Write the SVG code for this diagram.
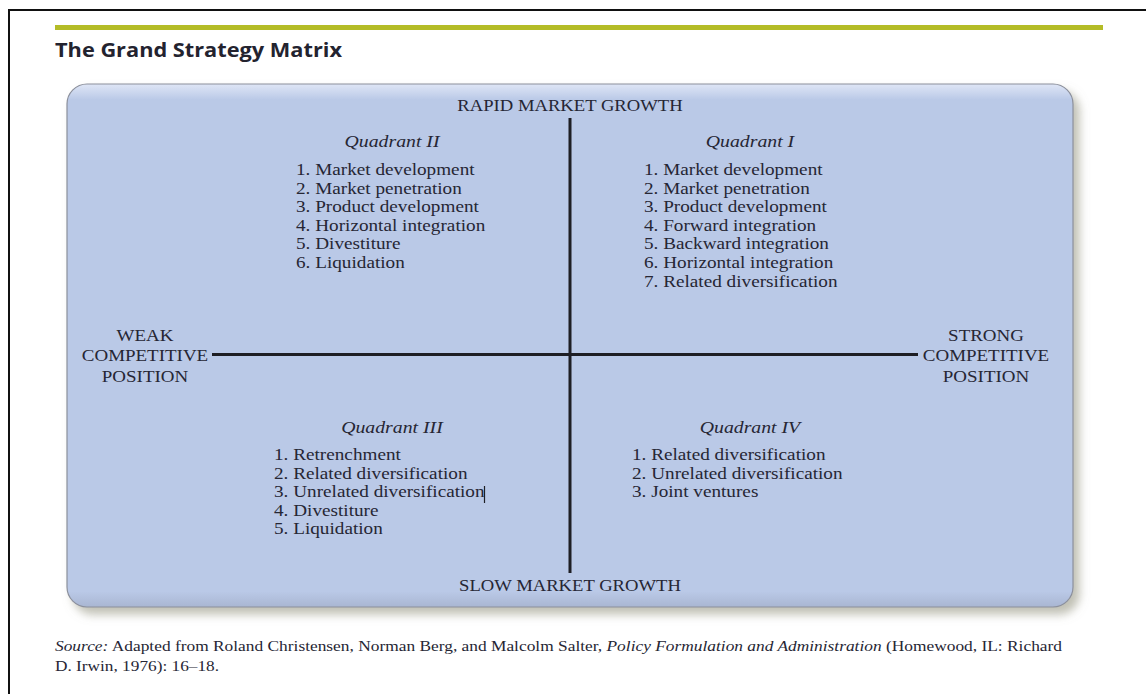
<svg xmlns="http://www.w3.org/2000/svg" width="1146" height="694" viewBox="0 0 1146 694">
  <style>
    .serif { font-family: "Liberation Serif", "Times New Roman", serif; fill: #262634; }
    .axis { font-size: 16.5px; }
    .item { font-size: 17px; }
    .qtitle { font-size: 17.5px; font-style: italic; }
    .note { font-size: 15px; }
    .title { font-family: "Open Sans", "Liberation Sans", sans-serif; font-weight: bold; font-size: 19px; fill: #23232f; }
    .axisline { stroke: #1e1e24; stroke-width: 3; fill: none; }
  </style>
  <defs>
    <filter id="panelShadow" x="-5%" y="-5%" width="112%" height="115%">
      <feDropShadow dx="6" dy="7" stdDeviation="5" flood-color="#8d8c78" flood-opacity="0.55"/>
    </filter>
    <linearGradient id="rimTop" x1="0" y1="0" x2="0" y2="1">
      <stop offset="0" stop-color="#dfe6f6"/>
      <stop offset="0.03" stop-color="#bac9e7"/>
      <stop offset="0.97" stop-color="#bac9e7"/>
      <stop offset="1" stop-color="#a9b6d2"/>
    </linearGradient>
  </defs>

  <rect width="1146" height="694" fill="#ffffff"/>

  <!-- page frame -->
  <path d="M9 694 V10 H1146" fill="none" stroke="#111111" stroke-width="2"/>

  <!-- header -->
  <rect x="55" y="25" width="1048" height="5" fill="#b4bc27"/>
  <text class="title" x="55" y="57" textLength="287" lengthAdjust="spacingAndGlyphs">The Grand Strategy Matrix</text>

  <!-- matrix panel -->
  <g id="panel">
    <rect x="67" y="84" width="1006" height="523" rx="20" ry="20" fill="url(#rimTop)" stroke="#8c909c" stroke-width="1.2" filter="url(#panelShadow)"/>
  </g>

  <!-- axes -->
  <g id="connectors">
    <line class="axisline" x1="570" y1="118" x2="570" y2="573"/>
    <line class="axisline" x1="212" y1="354.5" x2="918" y2="354.5"/>
  </g>

  <!-- axis labels -->
  <g id="rapid-growth" class="serif axis" transform="translate(570,0) scale(1.13,1)">
    <text x="0" y="111" text-anchor="middle">RAPID MARKET GROWTH</text>
  </g>
  <g id="slow-growth" class="serif axis" transform="translate(570,0) scale(1.13,1)">
    <text x="0" y="591" text-anchor="middle">SLOW MARKET GROWTH</text>
  </g>
  <g id="weak-position" class="serif axis" transform="translate(145,0) scale(1.15,1)" text-anchor="middle">
    <text x="0" y="341">WEAK</text>
    <text x="0" y="361">COMPETITIVE</text>
    <text x="0" y="382">POSITION</text>
  </g>
  <g id="strong-position" class="serif axis" transform="translate(986,0) scale(1.15,1)" text-anchor="middle">
    <text x="0" y="341">STRONG</text>
    <text x="0" y="361">COMPETITIVE</text>
    <text x="0" y="382">POSITION</text>
  </g>

  <!-- Quadrant II -->
  <g id="quadrant-2" class="serif" transform="translate(296,0) scale(1.13,1)">
    <text class="qtitle" x="85" y="147" text-anchor="middle">Quadrant II</text>
    <text class="item" x="0" y="175">1. Market development</text>
    <text class="item" x="0" y="193.6">2. Market penetration</text>
    <text class="item" x="0" y="212.2">3. Product development</text>
    <text class="item" x="0" y="230.8">4. Horizontal integration</text>
    <text class="item" x="0" y="249.4">5. Divestiture</text>
    <text class="item" x="0" y="268">6. Liquidation</text>
  </g>

  <!-- Quadrant I -->
  <g id="quadrant-1" class="serif" transform="translate(644,0) scale(1.13,1)">
    <text class="qtitle" x="93.8" y="147" text-anchor="middle">Quadrant I</text>
    <text class="item" x="0" y="175">1. Market development</text>
    <text class="item" x="0" y="193.6">2. Market penetration</text>
    <text class="item" x="0" y="212.2">3. Product development</text>
    <text class="item" x="0" y="230.8">4. Forward integration</text>
    <text class="item" x="0" y="249.4">5. Backward integration</text>
    <text class="item" x="0" y="268">6. Horizontal integration</text>
    <text class="item" x="0" y="286.6">7. Related diversification</text>
  </g>

  <!-- Quadrant III -->
  <g id="quadrant-3" class="serif" transform="translate(274,0) scale(1.13,1)">
    <text class="qtitle" x="104.4" y="433" text-anchor="middle">Quadrant III</text>
    <text class="item" x="0" y="460">1. Retrenchment</text>
    <text class="item" x="0" y="478.6">2. Related diversification</text>
    <text class="item" x="0" y="497.2">3. Unrelated diversification</text>
    <text class="item" x="0" y="515.8">4. Divestiture</text>
    <text class="item" x="0" y="534.4">5. Liquidation</text>
  </g>
  <!-- text caret after item 3 -->
  <line x1="484.5" y1="486" x2="484.5" y2="503" stroke="#1e1e24" stroke-width="1.2"/>

  <!-- Quadrant IV -->
  <g id="quadrant-4" class="serif" transform="translate(632,0) scale(1.13,1)">
    <text class="qtitle" x="104.4" y="433" text-anchor="middle">Quadrant IV</text>
    <text class="item" x="0" y="460">1. Related diversification</text>
    <text class="item" x="0" y="478.6">2. Unrelated diversification</text>
    <text class="item" x="0" y="497.2">3. Joint ventures</text>
  </g>

  <!-- source note -->
  <g id="source" class="serif note">
    <text x="55" y="651" textLength="1007" lengthAdjust="spacingAndGlyphs"><tspan font-style="italic">Source:</tspan> Adapted from Roland Christensen, Norman Berg, and Malcolm Salter, <tspan font-style="italic">Policy Formulation and Administration</tspan> (Homewood, IL: Richard</text>
    <text x="55" y="671" textLength="164" lengthAdjust="spacingAndGlyphs">D. Irwin, 1976): 16–18.</text>
  </g>
</svg>
